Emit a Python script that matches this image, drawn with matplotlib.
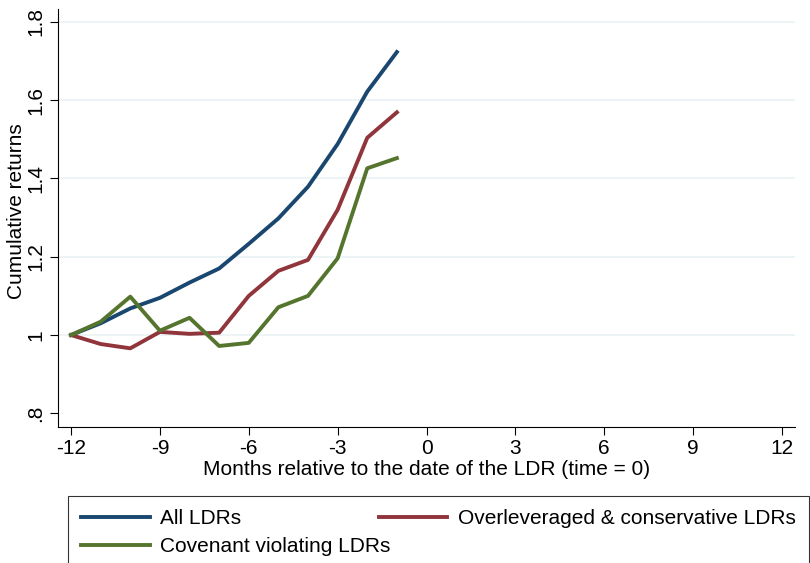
import matplotlib
matplotlib.use("Agg")
import matplotlib.pyplot as plt

plt.rcParams['font.family'] = ['Liberation Sans', 'DejaVu Sans']

months = [-12, -11, -10, -9, -8, -7, -6, -5, -4, -3, -2, -1]
all_ldrs = [1.000, 1.030, 1.068, 1.095, 1.134, 1.170, 1.233, 1.298, 1.379, 1.488, 1.622, 1.723]
overlev_cons = [1.000, 0.977, 0.966, 1.008, 1.003, 1.006, 1.100, 1.164, 1.192, 1.320, 1.504, 1.569]
covenant = [1.000, 1.034, 1.098, 1.011, 1.044, 0.972, 0.980, 1.071, 1.100, 1.196, 1.426, 1.452]

xticks = [-12, -9, -6, -3, 0, 3, 6, 9, 12]
yticks = [0.8, 1.0, 1.2, 1.4, 1.6, 1.8]
ytick_labels = ['.8', '1', '1.2', '1.4', '1.6', '1.8']

fig = plt.figure(figsize=(8.1, 5.63), dpi=100)
ax = fig.add_axes([58 / 810, 1 - 427 / 563, (795 - 58) / 810, (427 - 9) / 563])

# light Stata-style gridlines
for y in yticks[1:]:
    ax.axhline(y, color='#eaf2f3', lw=1.2, zorder=0)

l1, = ax.plot(months, all_ldrs, color='#1a476f', lw=2.8, label='All LDRs')
l2, = ax.plot(months, overlev_cons, color='#90353b', lw=2.8, label='Overleveraged & conservative LDRs')
l3, = ax.plot(months, covenant, color='#55752f', lw=2.8, label='Covenant violating LDRs')

ax.set_xlim(-12.44, 12.44)
ax.set_ylim(0.765, 1.833)
ax.set_xticks(xticks)
ax.set_xticklabels([str(t) for t in xticks], fontsize=15)
ax.set_yticks(yticks)
ax.set_yticklabels(ytick_labels, fontsize=15, rotation=90, va='center')
ax.tick_params(length=6, width=0.8, color='black', pad=3)
ax.spines['top'].set_visible(False)
ax.spines['right'].set_visible(False)
ax.set_xlabel('Months relative to the date of the LDR (time = 0)', fontsize=15, labelpad=1)
ax.set_ylabel('Cumulative returns', fontsize=15)
ax.yaxis.set_label_coords(-0.044, 0.517)

leg = fig.legend(handles=[l1, l3, l2], ncol=2, loc='upper left',
                 bbox_to_anchor=(68 / 810, 1 - 496 / 563, (809 - 68) / 810, 0),
                 mode='expand', fontsize=15, handlelength=3.3, frameon=True,
                 fancybox=False, borderaxespad=0, borderpad=0.64,
                 labelspacing=0.42, handletextpad=0.5)
leg.get_frame().set_edgecolor('black')
leg.get_frame().set_linewidth(0.8)

fig.savefig('out.png', dpi=100)
